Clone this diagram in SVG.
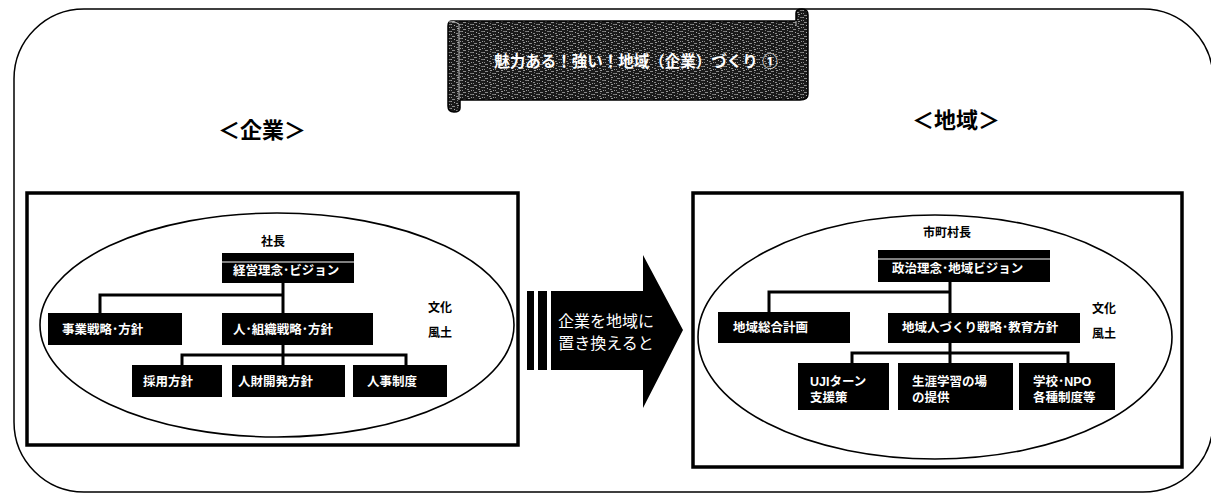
<svg xmlns="http://www.w3.org/2000/svg" width="1211" height="495" viewBox="0 0 1211 495">
<style>
text{font-family:"Liberation Sans","Noto Sans CJK JP",sans-serif;}
.box{fill:#000;}
.bt{fill:#fff;font-size:12.5px;font-weight:bold;}
.lb{fill:#000;font-size:12px;font-weight:bold;}
.hd{fill:#000;font-size:22px;font-weight:bold;}
.frame{fill:none;stroke:#000;stroke-width:3.5;}
.ell{fill:none;stroke:#000;stroke-width:1.6;}
.con{fill:none;stroke:#000;stroke-width:3;}
.wl{stroke:#fff;stroke-width:1;}
</style>
<defs>
<pattern id="noise" patternUnits="userSpaceOnUse" width="11" height="7">
<rect width="11" height="7" fill="#1a1a1a"/>
<rect x="1" y="1" width="3" height="1" fill="#8a8a8a"/>
<rect x="6" y="0" width="2" height="1" fill="#9a9a9a"/>
<rect x="8" y="3" width="3" height="1" fill="#777"/>
<rect x="3" y="4" width="1" height="1" fill="#aaa"/>
<rect x="0" y="3" width="1" height="1" fill="#999"/>
<rect x="5" y="5" width="2" height="1" fill="#888"/>
<rect x="6" y="2" width="1" height="1" fill="#777"/>
<rect x="0" y="6" width="1" height="1" fill="#888"/>
<rect x="9" y="6" width="1" height="1" fill="#999"/>
</pattern>
</defs>

<rect x="14" y="9" width="1199" height="483" rx="70" ry="70" fill="none" stroke="#000" stroke-width="1.5"/>

<g id="banner">
<path d="M452,21 L796,21 L796,13 Q796,9 802,9 Q808,9 808,15 L808,94 Q808,100 800,100 L460,100 L460,108 Q460,112 454,112 Q448,112 448,106 L448,26 Q448,21 452,21 Z" fill="url(#noise)" stroke="#000" stroke-width="1.5"/>
<path d="M796,21 L796,26 M449,22 Q454,20 459,24 L459,100" fill="none" stroke="#bbb" stroke-width="1"/>
<text x="636" y="67" text-anchor="middle" fill="#fff" font-size="15.5" font-weight="bold">魅力ある！強い！地域（企業）づくり ①</text>
</g>

<g id="title-company"><text class="hd" x="262" y="138" text-anchor="middle">＜企業＞</text></g>
<g id="title-region"><text class="hd" x="956" y="128" text-anchor="middle">＜地域＞</text></g>

<g id="company-panel">
<rect class="frame" x="27" y="193" width="491" height="252"/>
<ellipse class="ell" cx="277" cy="325" rx="237" ry="112"/>
<text class="lb" x="273" y="246" text-anchor="middle">社長</text>
<text class="lb" x="440" y="312" text-anchor="middle">文化</text>
<text class="lb" x="440" y="337" text-anchor="middle">風土</text>
</g>

<g id="region-panel">
<rect class="frame" x="693" y="193" width="489" height="274"/>
<ellipse class="ell" cx="935" cy="337" rx="237" ry="122"/>
<text class="lb" x="947" y="237" text-anchor="middle">市町村長</text>
<text class="lb" x="1104" y="313" text-anchor="middle">文化</text>
<text class="lb" x="1104" y="338" text-anchor="middle">風土</text>
</g>

<g id="connectors">
<path class="con" d="M283,283 V313 M100,313 V295 H283 M283,345 V365 M182,365 V355 H406 V365 M283,355 V365"/>
<path class="con" d="M950,282 V313 M769,312 V292 H950 M950,343 V363 M852,363 V353 H1068 V363"/>
</g>

<g id="n-vision-c"><rect class="box" x="222" y="253" width="132" height="30"/><line class="wl" x1="222" y1="262" x2="354" y2="262"/><text class="bt" x="233" y="275">経営理念･ビジョン</text></g>
<g id="n-business"><rect class="box" x="48" y="313" width="134" height="32"/><text class="bt" x="62" y="334">事業戦略･方針</text></g>
<g id="n-hr-strategy"><rect class="box" x="222" y="313" width="151" height="32"/><text class="bt" x="233" y="334">人･組織戦略･方針</text></g>
<g id="n-recruit"><rect class="box" x="132" y="365" width="90" height="32"/><text class="bt" x="143" y="386">採用方針</text></g>
<g id="n-develop"><rect class="box" x="232" y="365" width="113" height="32"/><text class="bt" x="238" y="386">人財開発方針</text></g>
<g id="n-personnel"><rect class="box" x="353" y="365" width="94" height="32"/><text class="bt" x="367" y="386">人事制度</text></g>

<g id="n-vision-r"><rect class="box" x="878" y="250" width="172" height="32"/><line class="wl" x1="878" y1="259" x2="1050" y2="259"/><text class="bt" x="892" y="273">政治理念･地域ビジョン</text></g>
<g id="n-plan"><rect class="box" x="718" y="312" width="132" height="31"/><text class="bt" x="733" y="332">地域総合計画</text></g>
<g id="n-edu"><rect class="box" x="888" y="313" width="192" height="30"/><text class="bt" x="902" y="332">地域人づくり戦略･教育方針</text></g>
<g id="n-uji"><rect class="box" x="798" y="363" width="91" height="47"/><text class="bt" x="810" y="386">UJIターン</text><text class="bt" x="810" y="402">支援策</text></g>
<g id="n-lifelong"><rect class="box" x="898" y="363" width="115" height="47"/><text class="bt" x="912" y="386">生涯学習の場</text><text class="bt" x="912" y="402">の提供</text></g>
<g id="n-school"><rect class="box" x="1019" y="363" width="96" height="47"/><text class="bt" x="1033" y="386">学校･NPO</text><text class="bt" x="1033" y="402">各種制度等</text></g>

<g id="arrow">
<rect x="527" y="291" width="7" height="79" fill="#000"/>
<rect x="538" y="291" width="9" height="79" fill="#000"/>
<path d="M551,291 H643 V255 L683,330 L643,408 V370 H551 Z" fill="#000"/>
<text x="606" y="327" text-anchor="middle" fill="#fff" font-size="16">企業を地域に</text>
<text x="606" y="349" text-anchor="middle" fill="#fff" font-size="16">置き換えると</text>
</g>
</svg>
